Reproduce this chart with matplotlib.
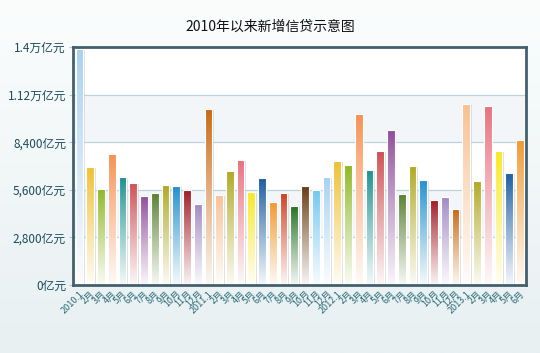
import numpy as np
import matplotlib
matplotlib.use("Agg")
import matplotlib.pyplot as plt
from matplotlib.colors import to_rgb, LinearSegmentedColormap
from matplotlib.patches import Rectangle

plt.rcParams['font.family'] = ['Noto Sans CJK SC', 'DejaVu Sans']

title = "2010年以来新增信贷示意图"
months = ["2010.1", "2月", "3月", "4月", "5月", "6月", "7月", "8月", "9月", "10月", "11月", "12月",
          "2011.1", "2月", "3月", "4月", "5月", "6月", "7月", "8月", "9月", "10月", "11月", "12月",
          "2012.1", "2月", "3月", "4月", "5月", "6月", "7月", "8月", "9月", "10月", "11月", "12月",
          "2013.1", "2月", "3月", "4月", "5月", "6月"]
values = [13880, 6960, 5650, 7710, 6370, 6000, 5260, 5410, 5880, 5820, 5590, 4780,
          10350, 5310, 6710, 7350, 5490, 6290, 4880, 5410, 4670, 5820, 5570, 6350,
          7290, 7060, 10060, 6770, 7880, 9120, 5350, 7000, 6180, 5000, 5180, 4470,
          10650, 6120, 10530, 7880, 6590, 8530]
palette = ["#a8d0f2", "#f0c030", "#8cb820", "#f79050", "#1a9090", "#d04e52", "#904c9c",
           "#5a8032", "#b0a820", "#2090d0", "#a01822", "#a088c4", "#c86812", "#f8c090",
           "#b0a820", "#e8707e", "#f8e820", "#1a5ca0", "#f09830", "#d04020", "#207020",
           "#6a3a12", "#70c8f0"]
yticks = [0, 2800, 5600, 8400, 11200, 14000]
ytick_labels = ["0亿元", "2,800亿元", "5,600亿元", "8,400亿元", "1.12万亿元", "1.4万亿元"]

fig = plt.figure(figsize=(5.4, 3.53), dpi=100)
bg = fig.add_axes([0, 0, 1, 1], zorder=-10)
grad = np.linspace(0, 1, 256).reshape(-1, 1)
bgcmap = LinearSegmentedColormap.from_list("bg", ["#fbfdfd", "#e8f0f2"])
bg.imshow(grad, aspect='auto', cmap=bgcmap, extent=[0, 1, 0, 1], origin='upper')
bg.axis('off')

ax = fig.add_axes([73/540, 1-285/353, (526-73)/540, (285-47)/353])
ax.set_xlim(-0.6, 41.56)
ax.set_ylim(0, 14000)

for i in range(len(yticks)-1):
    ax.axhspan(yticks[i], yticks[i+1], color="#ffffff" if i % 2 == 0 else "#f3f6f8", zorder=0, lw=0)
for y in yticks[1:-1]:
    ax.axhline(y, color="#bcd3dc", lw=0.9, zorder=1)

w = 0.72
x = np.arange(len(values))
for i, v in enumerate(values):
    c = np.array(to_rgb(palette[i % len(palette)]))
    ax.add_patch(Rectangle((x[i]-w/2+0.14, 0), w, v-60, color="#c4c4c4", alpha=0.5, zorder=2, lw=0))
    bar = Rectangle((x[i]-w/2, 0), w, v, facecolor='none', edgecolor='white', lw=0.8, zorder=4)
    ax.add_patch(bar)
    n = 64
    t = np.linspace(0, 1, n).reshape(-1, 1)
    mix = np.clip(t**0.9, 0, 1)
    img = c[None, None, :] * (1 - mix[..., None]*0.95) + np.ones(3)[None, None, :] * (mix[..., None]*0.95)
    im = ax.imshow(img, extent=[x[i]-w/2, x[i]+w/2, 0, v], aspect='auto', origin='upper', zorder=3,
                   interpolation='bilinear')
    im.set_clip_path(bar)

ax.set_yticks(yticks)
ax.set_yticklabels(ytick_labels, color="#1c4c5c", fontsize=8.5)
ax.set_xticks(x)
ax.set_xticklabels(months, rotation=45, ha='right', va='top', rotation_mode='anchor',
                   color="#2a6a78", fontsize=6.5)
ax.tick_params(axis='x', length=0, pad=3)
ax.tick_params(axis='y', length=3, color="#b0c4cc", pad=2)
for s in ax.spines.values():
    s.set_color("#44606e")
    s.set_linewidth(2)
    s.set_zorder(6)

fig.text(0.5, 1-27/353, title, ha='center', va='center', fontsize=10, color="#111111")

fig.savefig("out.png", dpi=100)
